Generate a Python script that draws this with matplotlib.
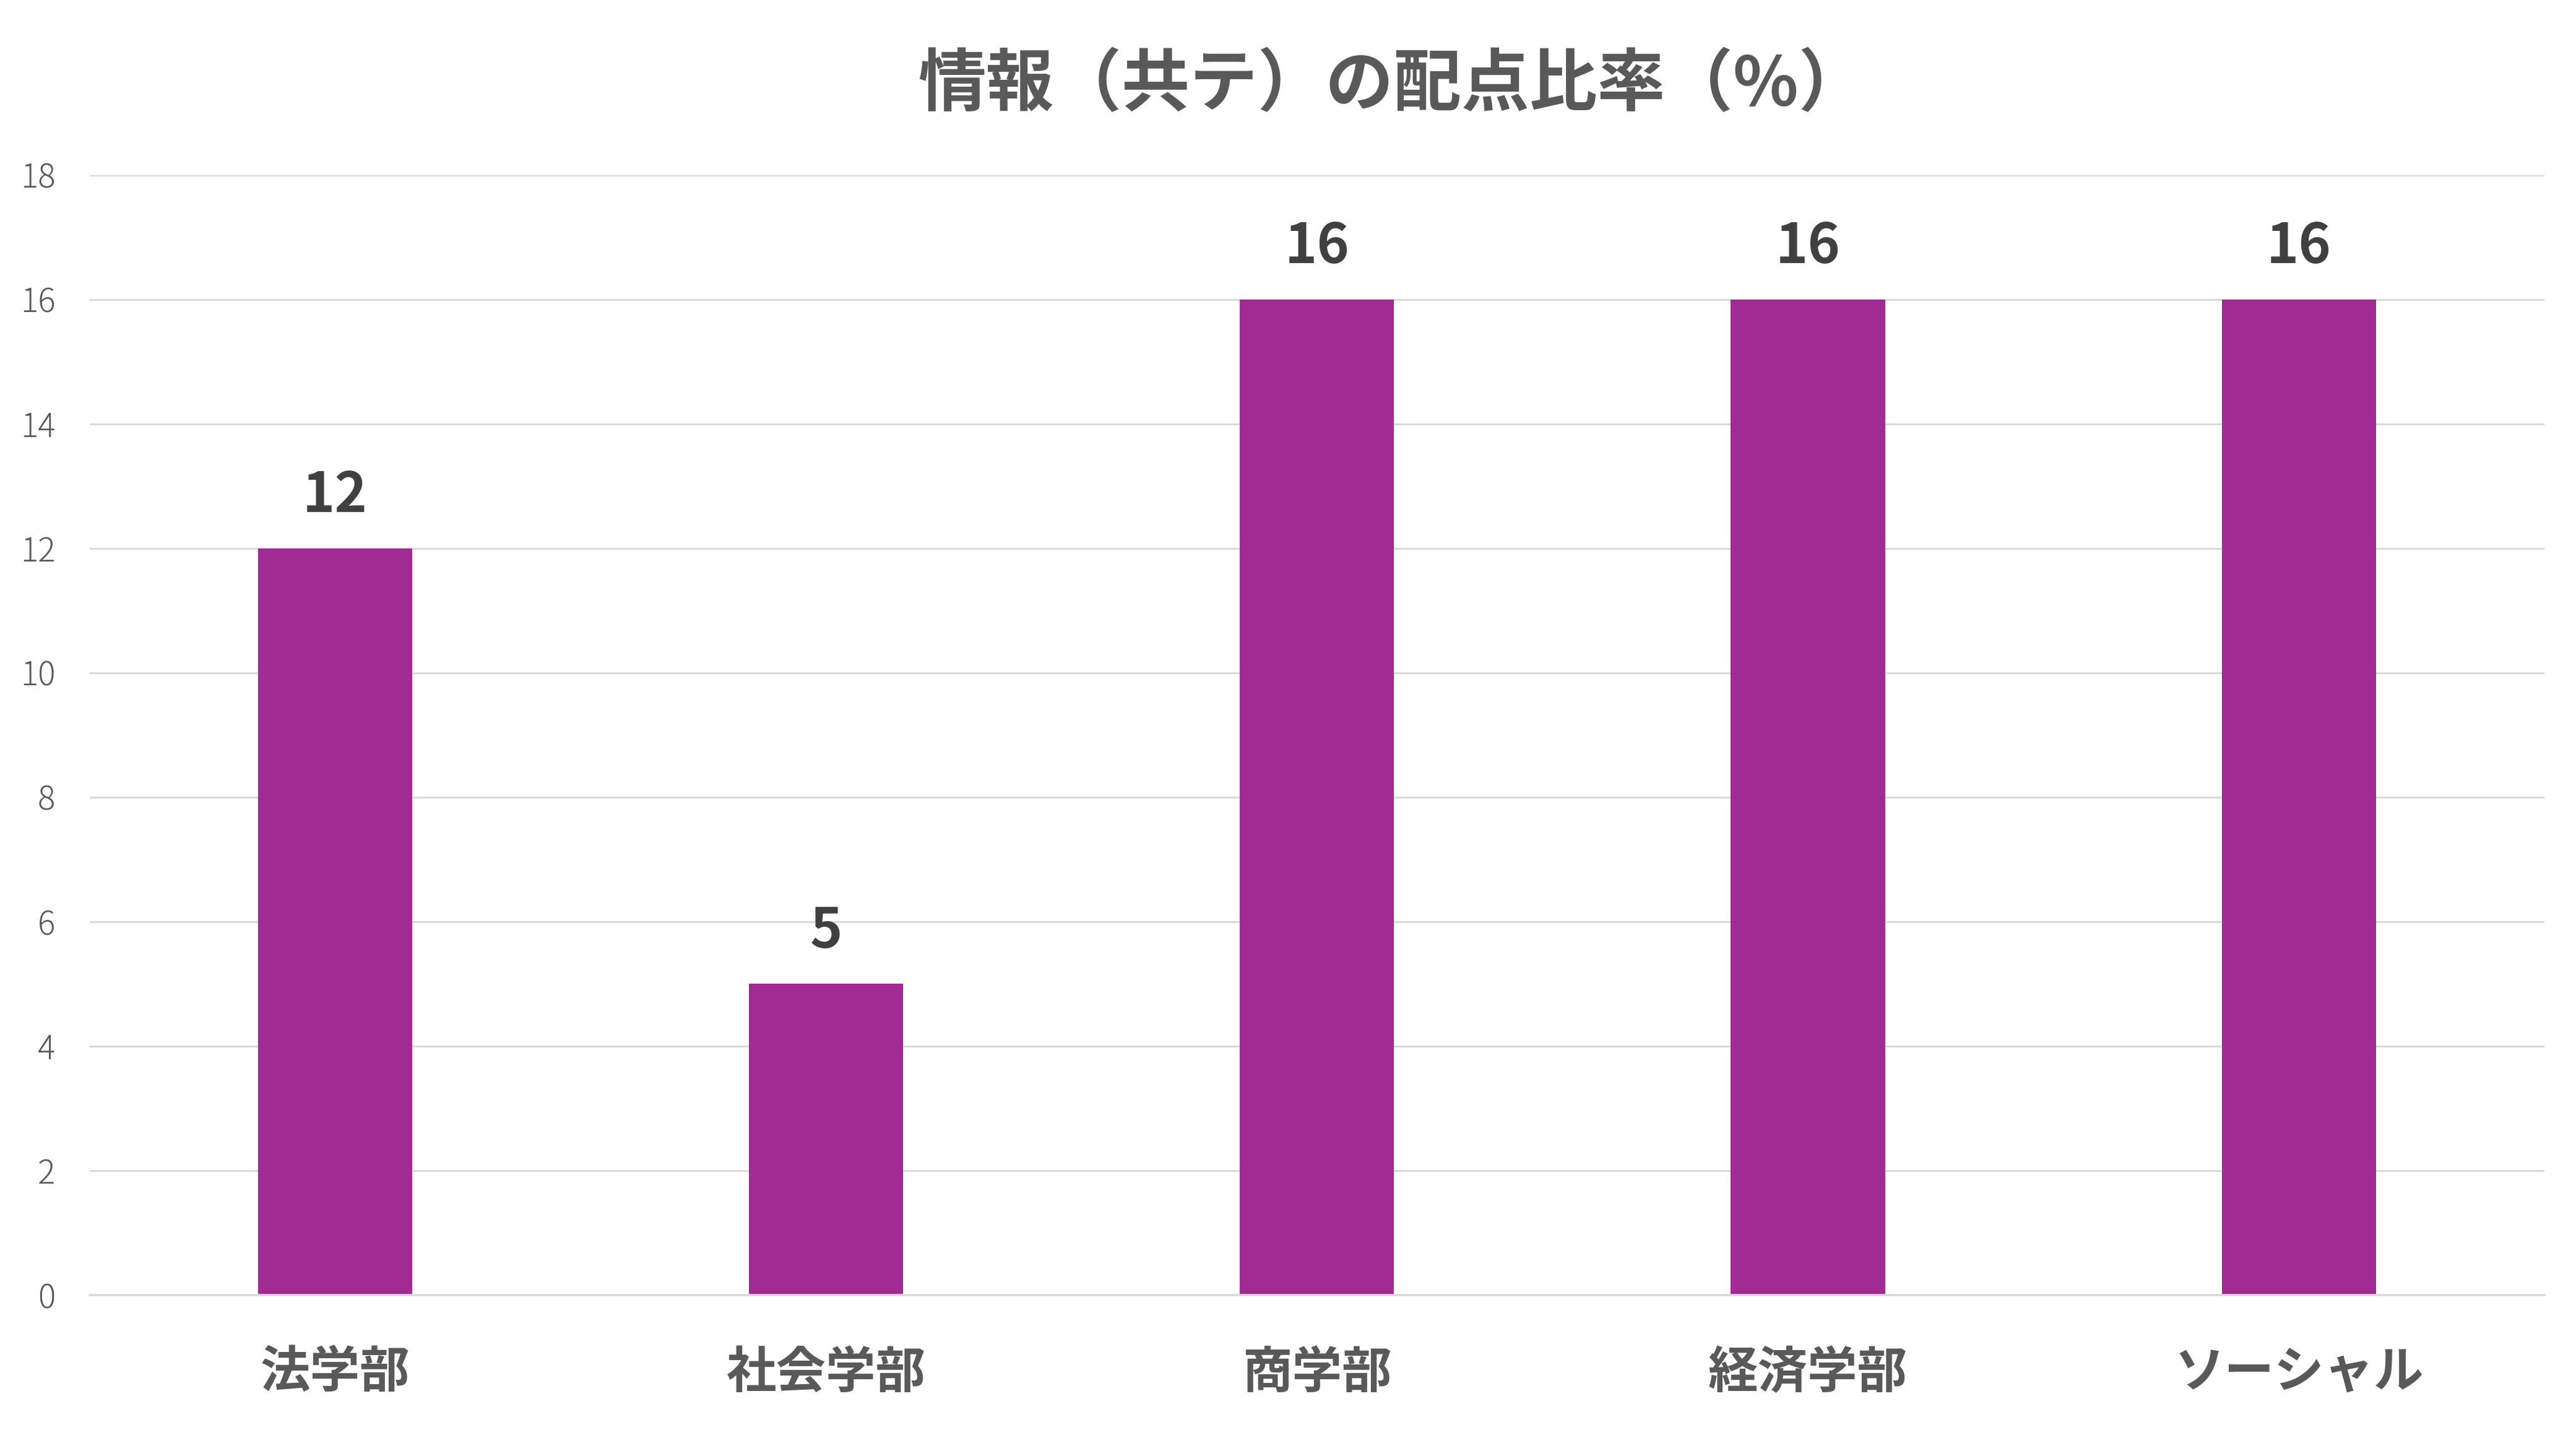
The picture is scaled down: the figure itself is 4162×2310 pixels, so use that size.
import matplotlib
matplotlib.use('Agg')
import matplotlib.pyplot as plt

# --------------------------- Data ---------------------------
categories = ['法学部', '社会学部', '商学部', '経済学部', 'ソーシャル']
values = [12, 5, 16, 16, 16]
yticks = [0, 2, 4, 6, 8, 10, 12, 14, 16, 18]
title = '情報（共テ）の配点比率（%）'

bar_color = '#A02B93'
grid_color = '#D9D9D9'
text_grey = '#595959'
label_dark = '#404040'

plt.rcParams['font.family'] = ['Noto Sans CJK JP', 'DejaVu Sans']

# --------------------------- Figure ---------------------------
fig = plt.figure(figsize=(41.62, 23.10), dpi=100)
ax = fig.add_axes([0.0348, 0.0944, 0.9529, 0.7833])

x = list(range(len(categories)))
ax.bar(x, values, width=0.314, color=bar_color, zorder=3)

ax.set_xlim(-0.5, len(categories) - 0.5)
ax.set_ylim(0, 18)
ax.set_yticks(yticks)
ax.set_xticks(x)
ax.set_xticklabels(categories, fontsize=58, fontweight='bold', color=text_grey)
ax.set_yticklabels([str(t) for t in yticks], fontsize=38, fontweight='light', color=text_grey)
ax.tick_params(axis='x', length=0, pad=62)
ax.tick_params(axis='y', length=0, pad=40)

ax.grid(axis='y', color=grid_color, linewidth=2.2, zorder=0)
for side in ['top', 'right', 'left']:
    ax.spines[side].set_visible(False)
ax.spines['bottom'].set_color(grid_color)
ax.spines['bottom'].set_linewidth(2.6)
ax.spines['bottom'].set_zorder(4)

# data labels above bars
for xi, v in zip(x, values):
    ax.annotate(str(v), xy=(xi, v), xytext=(0, 61), textcoords='offset points',
                ha='center', va='center', fontsize=64, fontweight='bold', color=label_dark)

fig.text(0.5405, 0.9400, title, ha='center', va='center', fontsize=79,
         fontweight='bold', color=text_grey)

fig.savefig('out.png', dpi=100, facecolor='white')
